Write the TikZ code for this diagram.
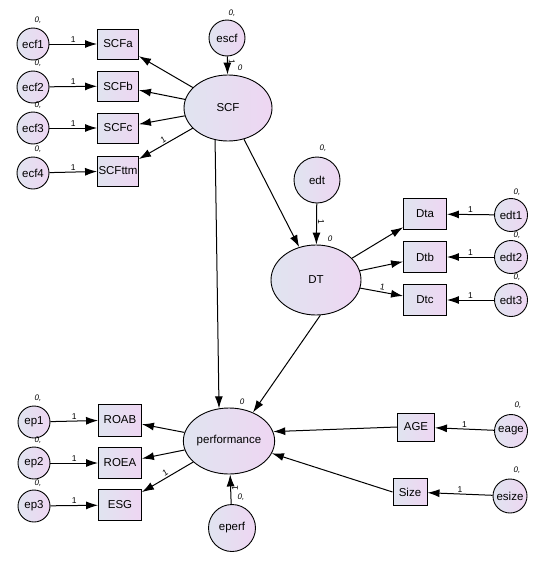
\documentclass[tikz,border=0pt]{standalone}
\usepackage{fontspec}
\setmainfont{Liberation Sans}
\usetikzlibrary{shapes.geometric,arrows.meta}
\definecolor{gL}{RGB}{224,228,240}
\definecolor{gR}{RGB}{238,214,242}
\tikzset{
 base/.style={draw, line width=0.9pt, left color=gL, right color=gR, font=\fontsize{11.5}{13}\selectfont, inner sep=0pt},
 obs/.style={base, rectangle, minimum width=41pt, minimum height=30pt},
 lat/.style={base, ellipse, minimum width=88pt, minimum height=66pt},
 err/.style={base, circle, minimum size=32pt},
 arr/.style={-{Latex[length=12pt,width=8pt]}, line width=1pt},
 one/.style={font=\fontsize{8.5}{9}\selectfont, inner sep=1.5pt},
 var/.style={font=\itshape\fontsize{8}{9}\selectfont, inner sep=0pt},
}
\begin{document}
\begin{tikzpicture}[x=1pt,y=-1pt]
\useasboundingbox (0,0) rectangle (534,565);
% latent
\node[lat] (SCF) at (228,108) {SCF};
\node[lat, minimum width=90pt, minimum height=70pt] (DT) at (316,280) {DT};
\node[lat, minimum width=88pt, minimum height=66pt] (perf) at (229,441) {performance};
% SCF indicators
\node[obs] (SCFa) at (118,44) {SCFa};
\node[obs] (SCFb) at (118,86) {SCFb};
\node[obs] (SCFc) at (118,128) {SCFc};
\node[obs] (SCFttm) at (118,171) {SCFttm};
\node[err] (ecf1) at (33,44) {ecf1};
\node[err] (ecf2) at (33,87) {ecf2};
\node[err] (ecf3) at (33,128) {ecf3};
\node[err] (ecf4) at (33,173) {ecf4};
\node[err, minimum size=36pt] (escf) at (227,38) {escf};
% DT indicators
\node[obs, minimum width=43pt, minimum height=31pt] (Dta) at (425,214) {Dta};
\node[obs, minimum width=43pt, minimum height=31pt] (Dtb) at (425,257) {Dtb};
\node[obs, minimum width=43pt, minimum height=31pt] (Dtc) at (425,300) {Dtc};
\node[err, minimum size=33pt] (edt1) at (511,215) {edt1};
\node[err, minimum size=33pt] (edt2) at (511,257) {edt2};
\node[err, minimum size=33pt] (edt3) at (511,300) {edt3};
\node[err, minimum size=46pt] (edt) at (317,180) {edt};
% performance indicators
\node[obs, minimum width=43pt, minimum height=32pt] (ROAB) at (120,420) {ROAB};
\node[obs, minimum width=43pt, minimum height=31pt] (ROEA) at (120,463) {ROEA};
\node[obs, minimum width=43pt, minimum height=31pt] (ESG) at (120,505) {ESG};
\node[err] (ep1) at (34,422) {ep1};
\node[err] (ep2) at (34,463) {ep2};
\node[err] (ep3) at (34,506) {ep3};
\node[err, minimum size=47pt] (eperf) at (232,528) {eperf};
% covariates
\node[obs, minimum width=37pt, minimum height=28pt] (AGE) at (416,427) {AGE};
\node[obs, minimum width=34pt, minimum height=27pt] (Size) at (410,492) {Size};
\node[err, minimum size=33pt] (eage) at (511,431) {eage};
\node[err, minimum size=34pt] (esize) at (510,496) {esize};
% variance / mean labels
\node[var] (v1) at (38,20) {0,};
\node[var] (v2) at (38,63) {0,};
\node[var] (v3) at (38,105) {0,};
\node[var] (v4) at (38,149) {0,};
\node[var] (v5) at (232,13) {0,};
\node[var] (v6) at (323,148) {0,};
\node[var] (v7) at (517,192) {0,};
\node[var] (v8) at (517,235) {0,};
\node[var] (v9) at (517,277) {0,};
\node[var] (v10) at (38,398) {0,};
\node[var] (v11) at (38,440) {0,};
\node[var] (v12) at (38,483) {0,};
\node[var] (v13) at (518,405) {0,};
\node[var] (v14) at (517,470) {0,};
\node[var] (v15) at (241,497) {0,};
\node[var] (m1) at (240,68) {0};
\node[var] (m2) at (330,239) {0};
\node[var] (m3) at (242,402) {0};
% paths
\draw[arr] (ecf1) -- node[one, above] {1} (SCFa);
\draw[arr] (ecf2) -- node[one, above] {1} (SCFb);
\draw[arr] (ecf3) -- node[one, above] {1} (SCFc);
\draw[arr] (ecf4) -- node[one, above] {1} (SCFttm);
\draw[arr] (SCF) -- (SCFa);
\draw[arr] (SCF) -- (SCFb);
\draw[arr] (SCF) -- (SCFc);
\draw[arr] (SCF) -- node[one, sloped, above] {1} (SCFttm);
\draw[arr] (escf) -- node[one, rotate=-90, anchor=south, pos=0.3, inner sep=1pt] {1} (SCF);
\draw[arr] (SCF) -- (DT);
\draw[arr] (SCF.248) -- (perf.107);
\draw[arr] (edt) -- node[one, rotate=-90, anchor=south, pos=0.45, inner sep=1pt] {1} (DT);
\draw[arr] (DT) -- (Dta);
\draw[arr] (DT) -- (Dtb);
\draw[arr] (DT) -- node[one, sloped, above] {1} (Dtc);
\draw[arr] (edt1) -- node[one, above] {1} (Dta);
\draw[arr] (edt2) -- node[one, above] {1} (Dtb);
\draw[arr] (edt3) -- node[one, above] {1} (Dtc);
\draw[arr] (DT.277) -- (perf.50);
\draw[arr] (perf) -- (ROAB);
\draw[arr] (perf) -- (ROEA);
\draw[arr] (perf) -- node[one, sloped, above] {1} (ESG);
\draw[arr] (ep1) -- node[one, above] {1} (ROAB);
\draw[arr] (ep2) -- node[one, above] {1} (ROEA);
\draw[arr] (ep3) -- node[one, above] {1} (ESG);
\draw[arr] (eperf) -- node[one, rotate=90, anchor=north, pos=0.55, inner sep=1pt] {1} (perf);
\draw[arr] (AGE.west) -- (perf.12);
\draw[arr] (Size.west) -- (perf.-16);
\draw[arr] (eage) -- node[one, above] {1} (AGE);
\draw[arr] (esize) -- node[one, above] {1} (Size);
\end{tikzpicture}
\end{document}
